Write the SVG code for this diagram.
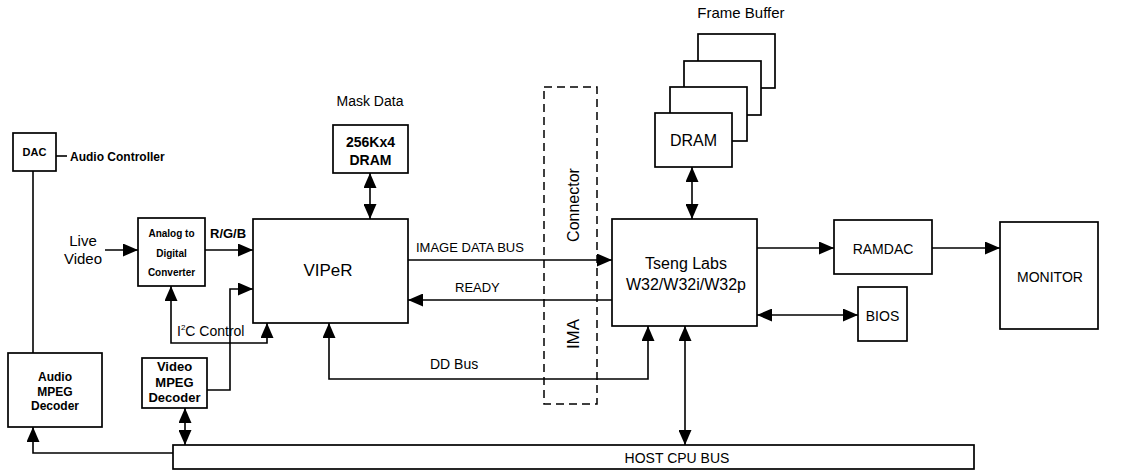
<svg xmlns="http://www.w3.org/2000/svg" width="1139" height="473" viewBox="0 0 1139 473">
<style>
.b{fill:#fff;stroke:#000;stroke-width:1.7}
.c{fill:none;stroke:#000;stroke-width:1.6}
text{font-family:"Liberation Sans",Arial,sans-serif;fill:#000}
.s{font-size:10px;font-weight:bold}
.m{font-size:12px;font-weight:bold}
.n{font-size:13px}
.l{font-size:14px}
.x{font-size:16px}
</style>
<defs>
<marker id="ah" viewBox="0 0 15 13" refX="15" refY="6.5" markerWidth="15" markerHeight="13" markerUnits="userSpaceOnUse" orient="auto-start-reverse">
<path d="M0,0 L15,6.5 L0,13 z" fill="#000"/>
</marker>
</defs>
<rect width="1139" height="473" fill="#fff"/>

<g id="connectors">
<path class="c" d="M56,156 H67"/>
<path class="c" d="M33,171 V353"/>
<path class="c" d="M173,453 H33 V427" marker-end="url(#ah)"/>
<path class="c" d="M105,250 H138" marker-end="url(#ah)"/>
<path class="c" d="M205,250 H253" marker-end="url(#ah)"/>
<path class="c" d="M207,390 H230 V289 H253" marker-end="url(#ah)"/>
<path class="c" d="M171,286 V343 H267 V323" marker-start="url(#ah)" marker-end="url(#ah)"/>
<path class="c" d="M185,408 V445" marker-start="url(#ah)" marker-end="url(#ah)"/>
<path class="c" d="M370,173 V219" marker-start="url(#ah)" marker-end="url(#ah)"/>
<path class="c" d="M408,260 H612" marker-end="url(#ah)"/>
<path class="c" d="M612,300 H408" marker-end="url(#ah)"/>
<path class="c" d="M329,323 V379 H648 V326" marker-start="url(#ah)" marker-end="url(#ah)"/>
<path class="c" d="M692,167 V219" marker-start="url(#ah)" marker-end="url(#ah)"/>
<path class="c" d="M757,248 H834" marker-end="url(#ah)"/>
<path class="c" d="M932,248 H1000" marker-end="url(#ah)"/>
<path class="c" d="M757,315 H858" marker-start="url(#ah)" marker-end="url(#ah)"/>
<path class="c" d="M685,326 V445" marker-start="url(#ah)" marker-end="url(#ah)"/>
</g>

<g id="dac">
<rect class="b" x="13" y="133" width="43" height="38"/>
<text class="s" x="34.5" y="156" text-anchor="middle" style="font-size:11px">DAC</text>
</g>
<g id="audio-controller-label">
<text class="m" x="70" y="161">Audio Controller</text>
</g>
<g id="live-video">
<text class="l" x="83" y="246" text-anchor="middle" style="font-size:15px">Live</text>
<text class="l" x="83" y="264" text-anchor="middle" style="font-size:15px">Video</text>
</g>
<g id="adc">
<rect class="b" x="138" y="218" width="67" height="68"/>
<text class="s" x="171.5" y="237" text-anchor="middle">Analog to</text>
<text class="s" x="171.5" y="257" text-anchor="middle">Digital</text>
<text class="s" x="171.5" y="276" text-anchor="middle">Converter</text>
</g>
<g id="rgb-label">
<text class="m" x="210" y="238" style="font-size:13px">R/G/B</text>
</g>
<g id="audio-mpeg">
<rect class="b" x="8" y="353" width="94" height="74"/>
<text class="m" x="55" y="381" text-anchor="middle">Audio</text>
<text class="m" x="55" y="396" text-anchor="middle">MPEG</text>
<text class="m" x="55" y="410" text-anchor="middle">Decoder</text>
</g>
<g id="video-mpeg">
<rect class="b" x="142" y="358" width="65" height="50"/>
<text class="m" x="174.5" y="371" text-anchor="middle" style="font-size:13px">Video</text>
<text class="m" x="174.5" y="387" text-anchor="middle" style="font-size:13px">MPEG</text>
<text class="m" x="174.5" y="402" text-anchor="middle" style="font-size:13px">Decoder</text>
</g>
<g id="i2c-label">
<text class="l" x="177" y="336">I<tspan font-size="8" dy="-6">2</tspan><tspan dy="6">C Control</tspan></text>
</g>
<g id="mask-dram">
<text class="l" x="370" y="106" text-anchor="middle">Mask Data</text>
<rect class="b" x="333" y="125" width="75" height="48"/>
<text class="l" x="370.5" y="147" text-anchor="middle" style="font-weight:bold">256Kx4</text>
<text class="l" x="370.5" y="165" text-anchor="middle" style="font-weight:bold">DRAM</text>
</g>
<g id="viper">
<rect class="b" x="253" y="219" width="155" height="104"/>
<text x="328" y="276" text-anchor="middle" style="font-size:17px">VIPeR</text>
</g>
<g id="bus-labels">
<text class="n" x="416" y="252">IMAGE DATA BUS</text>
<text class="n" x="455" y="292">READY</text>
<text class="l" x="430" y="369">DD Bus</text>
</g>
<g id="connector-ima">
<rect x="544" y="87" width="53" height="317" fill="none" stroke="#000" stroke-width="1.5" stroke-dasharray="8,5"/>
<text class="x" transform="translate(579,205) rotate(-90)" text-anchor="middle">Connector</text>
<text class="x" transform="translate(579,334) rotate(-90)" text-anchor="middle" style="font-size:17px">IMA</text>
</g>
<g id="frame-buffer">
<text class="l" x="741" y="18" text-anchor="middle" style="font-size:15px">Frame Buffer</text>
<rect class="b" x="698" y="34" width="77" height="54"/>
<rect class="b" x="684" y="61" width="77" height="54"/>
<rect class="b" x="670" y="87" width="77" height="54"/>
<rect class="b" x="655" y="113" width="77" height="54"/>
<text class="x" x="693.5" y="146" text-anchor="middle">DRAM</text>
</g>
<g id="tseng">
<rect class="b" x="612" y="219" width="145" height="107"/>
<text class="x" x="686" y="269" text-anchor="middle">Tseng Labs</text>
<text class="x" x="686" y="290" text-anchor="middle">W32/W32i/W32p</text>
</g>
<g id="ramdac">
<rect class="b" x="834" y="220" width="98" height="54"/>
<text class="l" x="883" y="254" text-anchor="middle">RAMDAC</text>
</g>
<g id="monitor">
<rect class="b" x="1000" y="222" width="98" height="107"/>
<text class="l" x="1050" y="282" text-anchor="middle">MONITOR</text>
</g>
<g id="bios">
<rect class="b" x="858" y="287" width="49" height="54"/>
<text class="l" x="882.5" y="321" text-anchor="middle">BIOS</text>
</g>
<g id="host-cpu-bus">
<rect class="b" x="173" y="445" width="801" height="24"/>
<text class="l" x="677" y="463" text-anchor="middle">HOST CPU BUS</text>
</g>
</svg>
